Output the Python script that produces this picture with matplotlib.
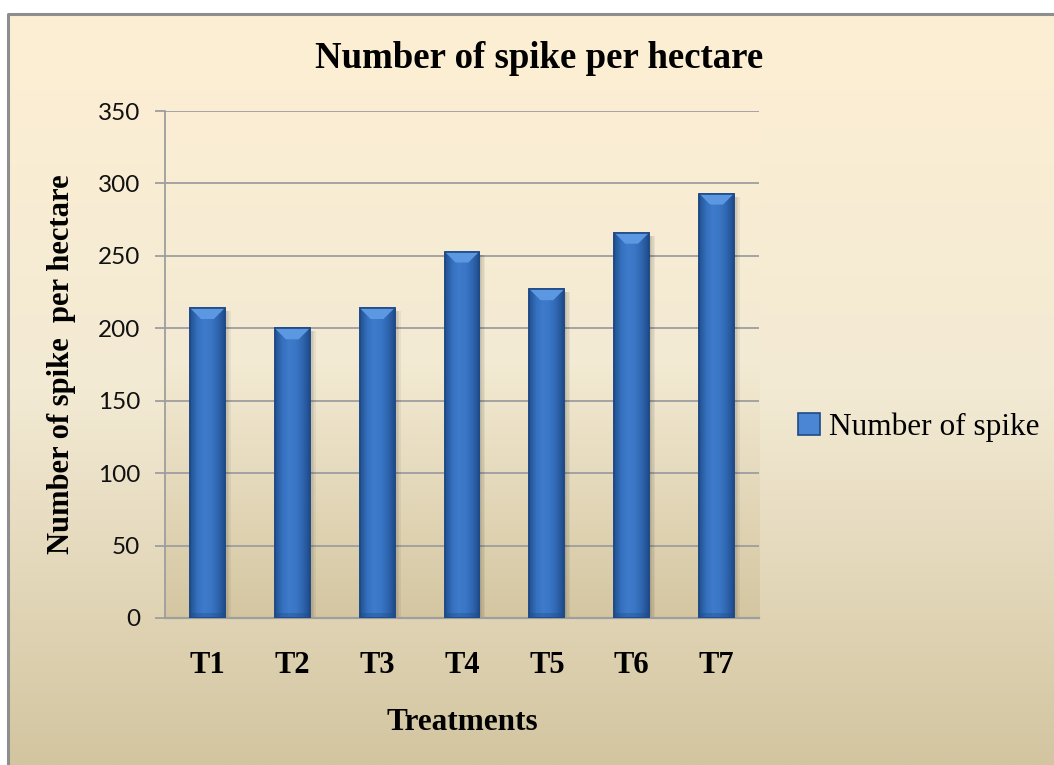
import numpy as np
import matplotlib
matplotlib.use("Agg")
import matplotlib.pyplot as plt
from matplotlib.colors import LinearSegmentedColormap
from matplotlib.patches import Polygon, Rectangle

# ---- data ----
categories = ["T1", "T2", "T3", "T4", "T5", "T6", "T7"]
values = [214, 200, 214, 253, 227, 266, 293]
series_name = "Number of spike"
title = "Number of spike per hectare"
ylabel = "Number of spike  per hectare"
xlabel = "Treatments"
yticks = [0, 50, 100, 150, 200, 250, 300, 350]

W, H = 1054, 765
fig = plt.figure(figsize=(W / 100, H / 100), dpi=100, facecolor="white")

# ---- chart area background (gradient + border) ----
bg = fig.add_axes([8 / W, 0, 1 - 8 / W, 1 - 14 / H], zorder=0)
bg.set_axis_off()
chart_cmap = LinearSegmentedColormap.from_list("chart", ["#FDEFD3", "#F3EAD4", "#D3C5A0"])
bg.imshow(np.linspace(0, 1, 256).reshape(-1, 1), aspect="auto", cmap=chart_cmap,
          extent=(0, 1, 0, 1), origin="upper")
bg.set_xlim(0, 1)
bg.set_ylim(0, 1)
bg.plot([0, 0, 1.01], [-0.01, 1, 1], color="#8E8E8E", lw=2.2, transform=bg.transAxes,
        clip_on=False, solid_capstyle="butt")

# ---- plot area ----
ax = fig.add_axes([165 / W, 1 - 618 / H, (759 - 165) / W, (618 - 111) / H], zorder=1)
x = np.arange(len(categories))
ax.set_xlim(-0.5, len(categories) - 0.5)
ax.set_ylim(0, 350)

plot_cmap = LinearSegmentedColormap.from_list("plot", ["#FBEED4", "#F3EAD3", "#D4C6A1"])
ax.imshow(np.linspace(0, 1, 256).reshape(-1, 1), aspect="auto", cmap=plot_cmap,
          extent=(-0.5, len(categories) - 0.5, 0, 350), origin="upper", zorder=0)

ax.set_yticks(yticks)
ax.yaxis.grid(True, color="#9E9E9E", lw=1.3, zorder=1)
ax.set_axisbelow(True)
for s in ["top", "right"]:
    ax.spines[s].set_visible(False)
ax.spines["left"].set_color("#9E9E9E")
ax.spines["bottom"].set_color("#9E9E9E")
ax.spines["left"].set_linewidth(1.3)
ax.spines["bottom"].set_linewidth(1.6)

bars = ax.bar(x, values, width=0.41, color="#3A73C3", edgecolor="#1E4A87",
              linewidth=1.2, zorder=3, label=series_name)

bar_cmap = LinearSegmentedColormap.from_list(
    "bar", ["#22518F", "#3470BE", "#3F7BCB", "#3A76C6", "#2F66B0", "#1F4C8A"])
px_per_unit_y = (618 - 111) / 350
px_per_unit_x = (759 - 165) / len(categories)
for b in bars:
    x0, w, h = b.get_x(), b.get_width(), b.get_height()
    # soft shadow to the right
    for k in range(4):
        sh = Rectangle((x0 + w, 0), (k + 1) * 1.5 / px_per_unit_x, h - 3 / px_per_unit_y,
                       facecolor="#000000", alpha=0.05, lw=0, zorder=2)
        ax.add_patch(sh)
    im = ax.imshow(np.linspace(0, 1, 64).reshape(1, -1), aspect="auto", cmap=bar_cmap,
                   extent=(x0, x0 + w, 0, h), zorder=3.1)
    im.set_clip_path(b)
    dy = 11 / px_per_unit_y
    dx = 11 / px_per_unit_x
    top = Polygon([(x0, h), (x0 + w, h), (x0 + w - dx, h - dy), (x0 + dx, h - dy)],
                  closed=True, facecolor="#5C98E2", edgecolor="none", zorder=3.2)
    ax.add_patch(top)
    bot = Rectangle((x0, 0), w, 5 / px_per_unit_y, facecolor="#1F4A85", alpha=0.35,
                    lw=0, zorder=3.2)
    ax.add_patch(bot)
    edge = Rectangle((x0, 0), w, h, facecolor="none", edgecolor="#1E4A87", lw=1.2,
                     zorder=3.3)
    ax.add_patch(edge)

ax.set_xticks(x)
ax.set_xticklabels(categories, fontfamily="Liberation Serif", fontweight="bold",
                   fontsize=22)
ax.tick_params(axis="x", length=0, pad=24)
ax.tick_params(axis="y", length=7, color="#9E9E9E", width=1.3, pad=11, labelsize=17.5,
               labelcolor="#111111")
for lab in ax.get_yticklabels():
    lab.set_fontfamily("Lato")

# ---- texts ----
fig.text(539 / W, 1 - 59 / H, title, ha="center", va="center",
         fontfamily="Liberation Serif", fontweight="bold", fontsize=26.5)
fig.text(462 / W, 1 - 722 / H, xlabel, ha="center", va="center",
         fontfamily="Liberation Serif", fontweight="bold", fontsize=22.5)
fig.text(62 / W, 1 - 364 / H, ylabel, ha="center", va="center", rotation=90,
         fontfamily="Liberation Serif", fontweight="bold", fontsize=22)

leg = fig.legend(handles=[bars], labels=[series_name], loc="center left",
                 bbox_to_anchor=(798 / W, 1 - 427 / H), frameon=False,
                 prop={"family": "Liberation Serif", "size": 22.5},
                 handlelength=0.7, handleheight=0.7, handletextpad=0.3,
                 borderaxespad=0, borderpad=0)
for hnd in leg.legend_handles:
    hnd.set_facecolor("#4A86D4")

fig.savefig("out.png", dpi=100, facecolor="white")
